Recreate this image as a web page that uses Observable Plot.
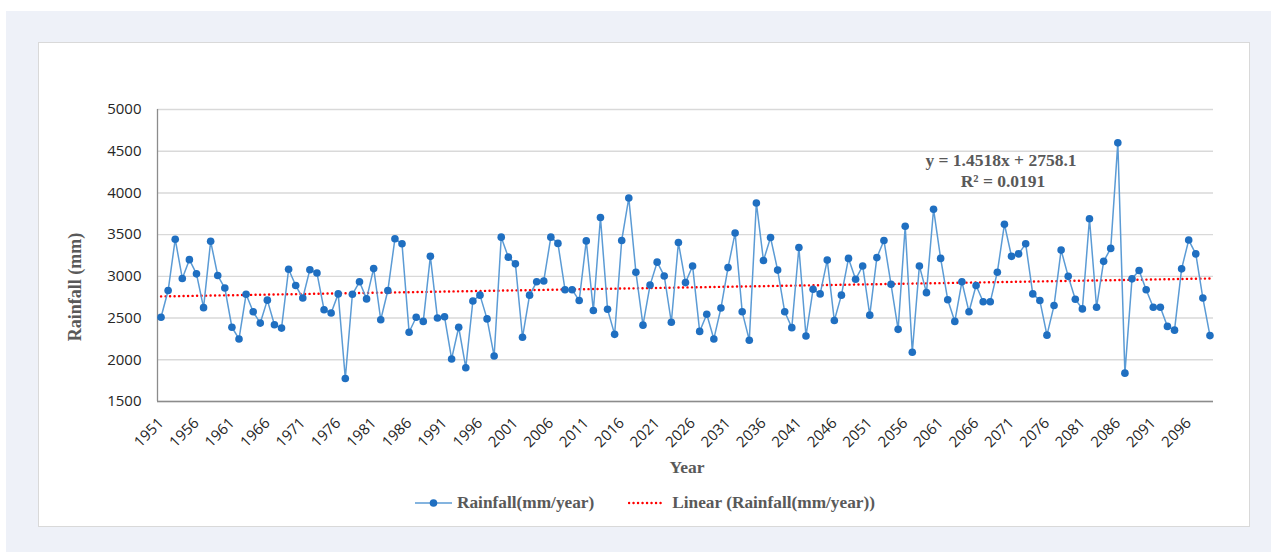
<!DOCTYPE html>
<html>
<head>
<meta charset="utf-8">
<script src="https://cdn.jsdelivr.net/npm/d3@7"></script>
<script src="https://cdn.jsdelivr.net/npm/@observablehq/plot@0.6"></script>
<style>
  html, body { margin: 0; padding: 0; background: #ffffff; }
  #page { position: relative; width: 1271px; height: 552px; overflow: hidden; }
  #outer { position: absolute; left: 6px; top: 11px; width: 1265px; height: 541px; background: #eef1f8; }
  #panel { position: absolute; left: 38px; top: 42px; width: 1210px; height: 483px; background: #ffffff; border: 1px solid #d9d9d9; }
  #chart { position: absolute; left: 0; top: 0; }
  .lbl { position: absolute; transform: translate(-50%, -50%); font-family: "Liberation Serif", "Times New Roman", serif; font-weight: bold; font-size: 17.5px; color: #595959; white-space: nowrap; }
  #legend { position: absolute; left: 415px; top: 493px; height: 20px; display: flex; align-items: center; font-family: "Liberation Serif", serif; font-weight: bold; font-size: 17.3px; color: #595959; white-space: nowrap; }
  #legend svg { display: block; }
</style>
</head>
<body>
<div id="page">
  <div id="outer"></div>
  <div id="panel"></div>
  <div id="chart"></div>
  <div class="lbl" style="left:75px; top:287px; font-size:18px; transform: translate(-50%,-50%) rotate(-90deg);">Rainfall (mm)</div>
  <div class="lbl" style="left:687px; top:467px;">Year</div>
  <div class="lbl" style="left:1001px; top:160px;">y = 1.4518x + 2758.1</div>
  <div class="lbl" style="left:1003px; top:181px;">R² = 0.0191</div>
  <div id="legend">
    <svg width="38" height="12"><line x1="0" y1="6" x2="37" y2="6" stroke="#5b9bd5" stroke-width="1.5"/><circle cx="18.5" cy="6" r="3.8" fill="#1f6fc1"/></svg>
    <span style="margin-left:4px;">Rainfall(mm/year)</span>
    <svg width="37" height="12" style="margin-left:34px;"><line x1="1" y1="6" x2="36" y2="6" stroke="#ff0000" stroke-width="2.4" stroke-dasharray="0.1,4.4" stroke-linecap="round"/></svg>
    <span style="margin-left:7px;">Linear (Rainfall(mm/year))</span>
  </div>
</div>
<script>
const startYear = 1951;
const rainfall = [
  2510, 2830, 3445, 2975, 3200, 3030, 2625, 3420, 3010, 2860,
  2390, 2250, 2785, 2575, 2440, 2715, 2420, 2380, 3085, 2890,
  2740, 3080, 3040, 2600, 2560, 2790, 1775, 2785, 2935, 2730,
  3095, 2480, 2830, 3450, 3390, 2330, 2510, 2460, 3240, 2500,
  2515, 2010, 2390, 1905, 2705, 2775, 2490, 2045, 3470, 3230,
  3150, 2270, 2775, 2935, 2945, 3470, 3395, 2840, 2840, 2710,
  3425, 2590, 3705, 2605, 2305, 3430, 3940, 3050, 2415, 2895,
  3170, 3005, 2450, 3405, 2925, 3125, 2340, 2545, 2250, 2620,
  3105, 3520, 2575, 2235, 3880, 3190, 3465, 3075, 2575, 2385,
  3345, 2285, 2845, 2790, 3195, 2470, 2775, 3215, 2965, 3125,
  2535, 3225, 3430, 2905, 2365, 3600, 2090, 3125, 2805, 3805,
  3215, 2720, 2460, 2935, 2575, 2890, 2695, 2695, 3050, 3625,
  3240, 3270, 3390, 2790, 2710, 2295, 2650, 3315, 3000, 2725,
  2610, 3690, 2630, 3180, 3335, 4600, 1840, 2970, 3070, 2840,
  2630, 2630, 2400, 2355, 3090, 3435, 3270, 2740, 2290
];
const years = rainfall.map((_, i) => startYear + i);
const xTickLabels = years.filter((_, i) => i % 5 === 0);
const yTicks = [1500, 2000, 2500, 3000, 3500, 4000, 4500, 5000];
const trendSlope = 1.4518;
const trendIntercept = 2758.1;

const data = years.map((year, i) => ({year, value: rainfall[i]}));
const trend = [years[0], years[years.length - 1]].map(year => ({year, value: trendSlope * (year - startYear + 1) + trendIntercept}));

const chart = Plot.plot({
  width: 1271,
  height: 552,
  marginLeft: 157,
  marginRight: 58,
  marginTop: 109,
  marginBottom: 151,
  style: {fontFamily: "'Open Sans', sans-serif", fontSize: "15px", color: "#262626", background: "transparent", overflow: "visible"},
  x: {type: "linear", domain: [startYear - 0.5, years[years.length - 1] + 0.5]},
  y: {domain: [1500, 5000]},
  marks: [
    Plot.gridY(yTicks, {stroke: "#d9d9d9", strokeOpacity: 1, strokeWidth: 1.4}),
    Plot.ruleY([1500], {stroke: "#8c8c8c", strokeWidth: 1.3}),
    Plot.ruleX([startYear - 0.5], {y1: 1500, y2: 5000, stroke: "#8c8c8c", strokeWidth: 1.3}),
    Plot.axisY(yTicks, {tickSize: 0, tickPadding: 16, label: null, tickFormat: d => String(d)}),
    Plot.axisX(xTickLabels, {tickSize: 0, tickPadding: 19, tickRotate: -45, label: null, tickFormat: d => String(d)}),
    Plot.line(trend, {x: "year", y: "value", stroke: "#ff0000", strokeWidth: 2.4, strokeDasharray: "0.1,4.4", strokeLinecap: "round"}),
    Plot.line(data, {x: "year", y: "value", stroke: "#5b9bd5", strokeWidth: 1.5}),
    Plot.dot(data, {x: "year", y: "value", r: 3.8, fill: "#1f6fc1", stroke: "none"})
  ]
});
document.getElementById("chart").appendChild(chart);
</script>
</body>
</html>
